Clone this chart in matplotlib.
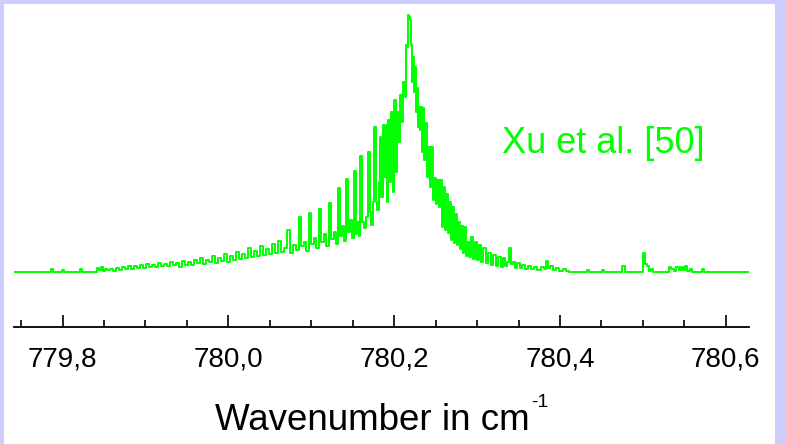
import matplotlib
matplotlib.use("Agg")
import matplotlib.pyplot as plt
from matplotlib.patches import Rectangle
from matplotlib.ticker import MultipleLocator, FuncFormatter

plt.rcParams['font.family'] = ['Liberation Sans', 'DejaVu Sans']

# spectrum (wavenumber in cm-1, intensity in arb. units)
wavenumber = [
    779.7415, 779.7848, 779.7872, 779.7908, 779.7993, 779.8005, 779.8029, 779.8197, 779.8221, 779.8245,
    779.8402, 779.8426, 779.8450, 779.8474, 779.8498, 779.8522, 779.8558, 779.8594, 779.8630, 779.8667,
    779.8703, 779.8739, 779.8775, 779.8811, 779.8847, 779.8883, 779.8919, 779.8955, 779.8991, 779.9028,
    779.9064, 779.9100, 779.9136, 779.9172, 779.9208, 779.9244, 779.9280, 779.9316, 779.9353, 779.9389,
    779.9425, 779.9461, 779.9497, 779.9533, 779.9569, 779.9605, 779.9641, 779.9677, 779.9714, 779.9750,
    779.9786, 779.9822, 779.9858, 779.9894, 779.9930, 779.9966, 780.0002, 780.0038, 780.0075, 780.0111,
    780.0147, 780.0183, 780.0219, 780.0255, 780.0291, 780.0327, 780.0363, 780.0399, 780.0436, 780.0472,
    780.0508, 780.0544, 780.0580, 780.0616, 780.0652, 780.0688, 780.0724, 780.0760, 780.0809, 780.0833,
    780.0869, 780.0893, 780.0929, 780.0953, 780.0989, 780.1013, 780.1049, 780.1073, 780.1109, 780.1134,
    780.1170, 780.1194, 780.1224, 780.1254, 780.1290, 780.1308, 780.1332, 780.1362, 780.1386, 780.1404,
    780.1428, 780.1458, 780.1483, 780.1501, 780.1525, 780.1549, 780.1567, 780.1585, 780.1603, 780.1627,
    780.1651, 780.1669, 780.1693, 780.1717, 780.1735, 780.1747, 780.1765, 780.1789, 780.1807, 780.1819,
    780.1838, 780.1856, 780.1874, 780.1892, 780.1904, 780.1922, 780.1940, 780.1958, 780.1976, 780.1994,
    780.2012, 780.2030, 780.2048, 780.2066, 780.2084, 780.2102, 780.2120, 780.2138, 780.2150, 780.2162,
    780.2174, 780.2187, 780.2199, 780.2211, 780.2223, 780.2235, 780.2247, 780.2259, 780.2271, 780.2283,
    780.2295, 780.2307, 780.2319, 780.2331, 780.2343, 780.2355, 780.2367, 780.2385, 780.2403, 780.2421,
    780.2439, 780.2457, 780.2475, 780.2493, 780.2511, 780.2529, 780.2548, 780.2566, 780.2584, 780.2602,
    780.2620, 780.2638, 780.2656, 780.2674, 780.2692, 780.2710, 780.2728, 780.2746, 780.2764, 780.2782,
    780.2800, 780.2818, 780.2836, 780.2854, 780.2872, 780.2891, 780.2909, 780.2939, 780.2957, 780.2987,
    780.3005, 780.3035, 780.3053, 780.3095, 780.3113, 780.3155, 780.3173, 780.3215, 780.3233, 780.3276,
    780.3300, 780.3324, 780.3348, 780.3372, 780.3402, 780.3420, 780.3444, 780.3468, 780.3504, 780.3528,
    780.3564, 780.3601, 780.3637, 780.3673, 780.3709, 780.3745, 780.3793, 780.3817, 780.3841, 780.3865,
    780.3901, 780.3937, 780.3974, 780.4010, 780.4058, 780.4094, 780.4130, 780.4311, 780.4335, 780.4359,
    780.4491, 780.4515, 780.4551, 780.4744, 780.4756, 780.4780, 780.4792, 780.4996, 780.5015, 780.5033,
    780.5057, 780.5081, 780.5105, 780.5141, 780.5309, 780.5333, 780.5357, 780.5382, 780.5418, 780.5442,
    780.5466, 780.5490, 780.5526, 780.5550, 780.5586, 780.5610, 780.5706, 780.5731, 780.5755, 780.6284,
]
intensity = [
    0, 0, 3, 0, 0, 2, 0, 0, 3, 0,
    0, 4, 2, 5, 1, 3, 2, 3, 1, 4,
    2, 5, 3, 6, 3, 6, 4, 7, 4, 8,
    5, 7, 5, 9, 6, 8, 6, 10, 7, 9,
    5, 11, 7, 10, 7, 12, 9, 14, 8, 12,
    10, 16, 9, 14, 11, 18, 10, 16, 12, 20,
    13, 18, 14, 24, 15, 21, 16, 26, 17, 23,
    18, 28, 19, 31, 20, 24, 42, 19, 27, 22,
    55, 26, 30, 21, 59, 28, 34, 24, 63, 30,
    38, 26, 69, 33, 40, 28, 84, 36, 46, 31,
    93, 40, 52, 34, 101, 38, 50, 36, 116, 50,
    44, 55, 120, 60, 47, 70, 145, 70, 62, 90,
    135, 75, 147, 95, 147, 70, 152, 90, 160, 80,
    172, 100, 160, 130, 177, 150, 190, 175, 227, 225,
    257, 255, 252, 227, 190, 215, 180, 205, 160, 184,
    145, 165, 142, 165, 120, 164, 112, 149, 95, 125,
    85, 125, 72, 94, 68, 92, 65, 92, 45, 85,
    42, 78, 39, 70, 32, 65, 29, 58, 27, 50,
    23, 46, 19, 45, 16, 30, 15, 35, 13, 30,
    12, 27, 10, 24, 9, 19, 7, 17, 6, 15,
    5, 14, 6, 10, 24, 8, 10, 4, 9, 4,
    7, 3, 6, 3, 5, 2, 5, 3, 11, 4,
    6, 2, 4, 1, 3, 1, 0, 0, 2, 0,
    0, 2, 0, 0, 6, 6, 0, 0, 19, 8,
    6, 1, 3, 0, 0, 5, 3, 1, 5, 2,
    5, 2, 6, 1, 3, 0, 0, 3, 0, 0,
]

major_ticks = [779.8, 780.0, 780.2, 780.4, 780.6]
x_label = "Wavenumber in cm"
x_label_sup = "-1"
annotation = "Xu et al. [50]"

green = "#00ff00"

fig = plt.figure(figsize=(7.86, 4.44), dpi=100)
fig.patch.set_facecolor("#ccccff")
# white panel inside the lavender frame
fig.patches.append(Rectangle((4 / 786, 0), 771 / 786, 1 - 4 / 444,
                             transform=fig.transFigure, facecolor="white",
                             edgecolor="none", zorder=-10))

ax = fig.add_axes([14 / 786, 1 - 327 / 444, (749 - 14) / 786, (327 - 8) / 444])
ax.patch.set_alpha(0)
ax.plot(wavenumber, intensity, color=green, lw=1.4, drawstyle="steps-mid")

ax.set_xlim(779.7415, 780.628)
ax.set_ylim(-55, 264)
for s in ["top", "left", "right"]:
    ax.spines[s].set_visible(False)
ax.spines["bottom"].set_linewidth(1.3)
ax.set_yticks([])

ax.set_xticks(major_ticks)
ax.xaxis.set_minor_locator(MultipleLocator(0.05))
ax.xaxis.set_major_formatter(FuncFormatter(lambda v, p: f"{v:.1f}".replace(".", ",")))
ax.tick_params(axis="x", which="major", direction="in", length=8.6, width=1.2,
               labelsize=20, pad=14)
ax.tick_params(axis="x", which="minor", direction="in", length=4.8, width=1.2)

fig.text(215 / 786, 1 - 420 / 444, x_label, fontsize=26.5, ha="left", va="center")
fig.text(531 / 786, 1 - 394 / 444, x_label_sup, fontsize=14, ha="left", va="top")
fig.text(502 / 786, 1 - 153 / 444, annotation, fontsize=26, color=green,
         ha="left", va="baseline")

fig.savefig("out.png", dpi=100, facecolor=fig.get_facecolor())
